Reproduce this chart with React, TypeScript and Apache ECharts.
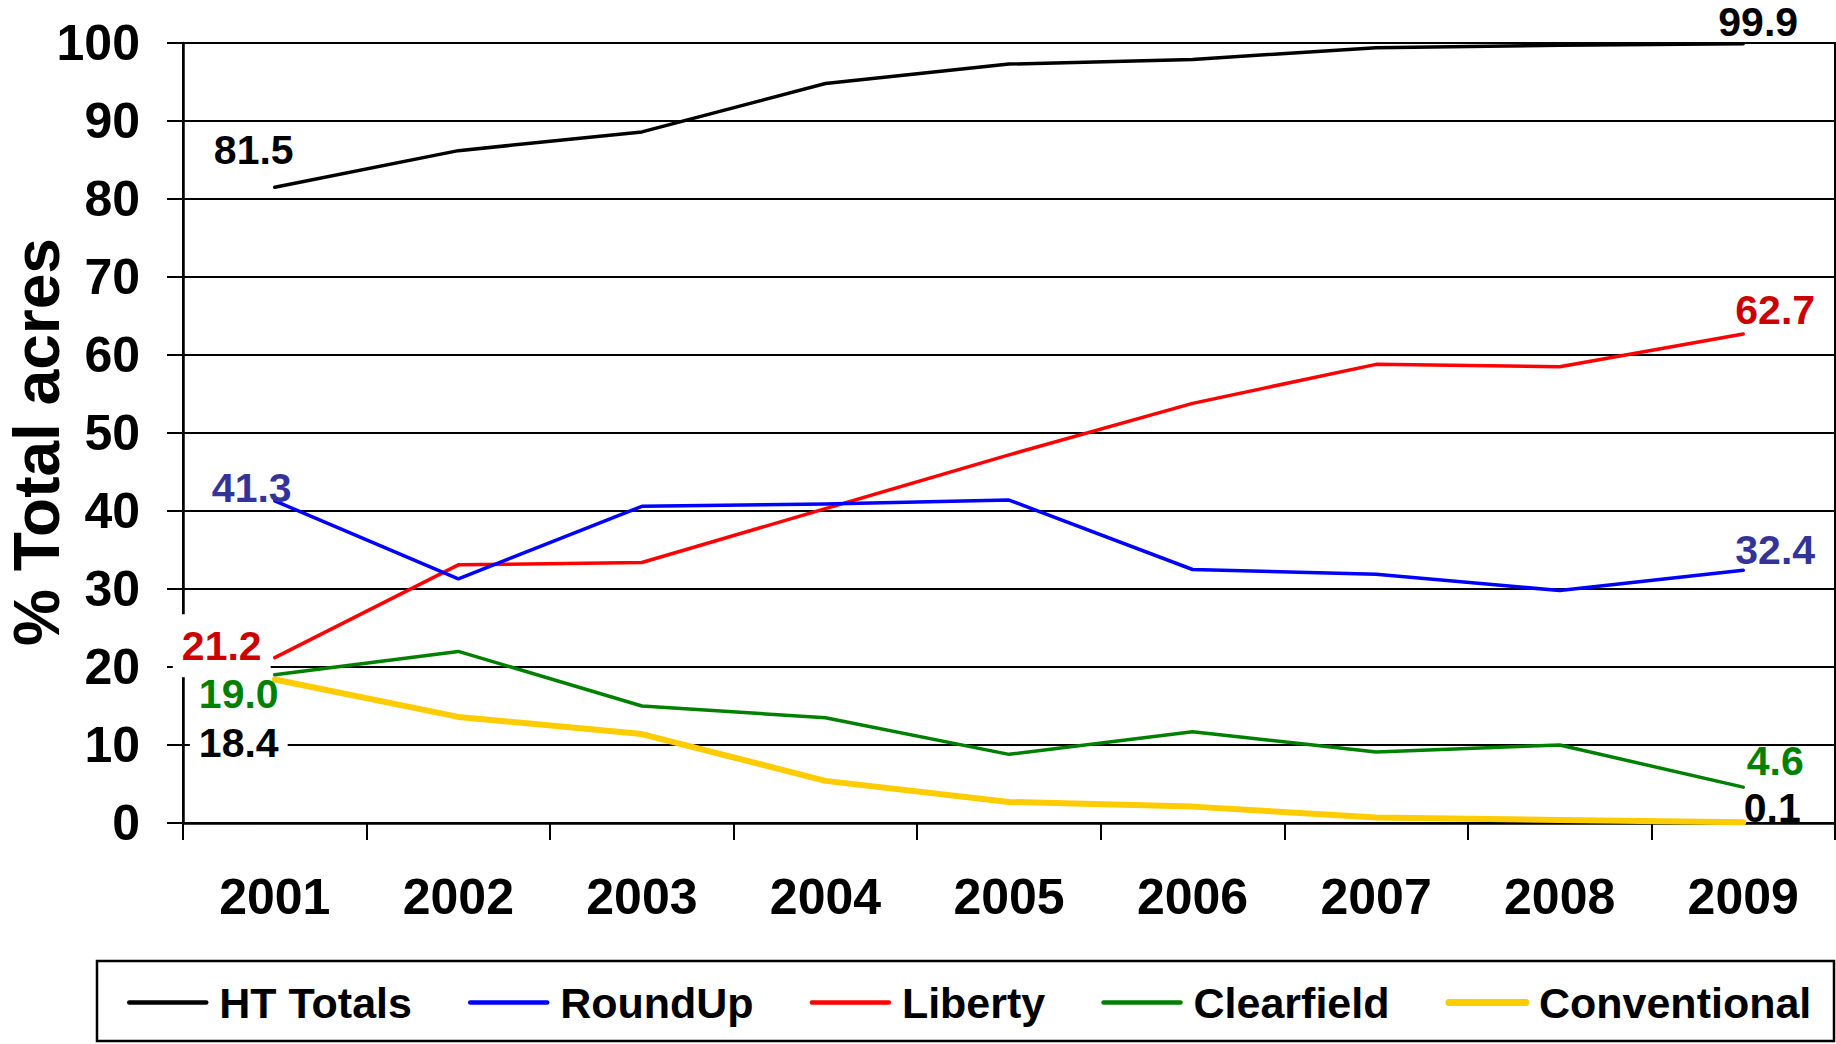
import React, { useEffect, useRef } from "react";
import * as echarts from "echarts";

const years = ["2001", "2002", "2003", "2004", "2005", "2006", "2007", "2008", "2009"];
const htTotals = [81.5, 86.2, 88.6, 94.8, 97.3, 97.9, 99.4, 99.7, 99.9];
const roundUp = [41.3, 31.3, 40.6, 40.9, 41.4, 32.5, 31.9, 29.8, 32.4];
const liberty = [21.2, 33.1, 33.4, 40.3, 47.2, 53.8, 58.8, 58.5, 62.7];
const clearfield = [19.0, 22.0, 15.0, 13.5, 8.8, 11.7, 9.1, 10.0, 4.6];
const conventional = [18.4, 13.6, 11.4, 5.4, 2.7, 2.1, 0.7, 0.4, 0.1];
const seriesNames = ["HT Totals", "RoundUp", "Liberty", "Clearfield", "Conventional"];
const yAxisTitle = "% Total acres";
const yMin = 0;
const yMax = 100;
const yStep = 10;

const FONT = "'Liberation Sans', Arial, Helvetica, sans-serif";

// styles (not data)
const lineColors = ["#000000", "#0000FF", "#FF0000", "#008000", "#FFCC00"];
const labelColors = ["#000000", "#333399", "#CC0000", "#008000", "#000000"];
const lineWidths = [3.5, 3.5, 3.5, 3.5, 6];
const legendLineWidths = [4.5, 4.5, 4.5, 4.5, 7];
const firstOffsets = [[-21, -37], [-23, -13], [-53, -12], [-36, 19], [-36, 64]];
const lastOffsets = [[15, -22], [32, -20], [32, -24], [32, -26], [29, -14]];
const firstBg = [false, false, true, false, true];

export default function App() {
  const ref = useRef<HTMLDivElement>(null);
  useEffect(() => {
    document.body.style.margin = "0";
    const chart = echarts.init(ref.current!, null, { renderer: "svg", width: 1836, height: 1044 });
    const allSeries = [htTotals, roundUp, liberty, clearfield, conventional];
    const lastIdx = years.length - 1;

    const lineSeries = allSeries.map((vals, i) => ({
      name: seriesNames[i],
      type: "line",
      data: vals,
      symbol: "none",
      smooth: false,
      lineStyle: { color: lineColors[i], width: lineWidths[i], cap: "round", join: "round" },
      itemStyle: { color: lineColors[i] },
      z: 3 + (allSeries.length - i) * 0.01,
    }));

    const labelData: any[] = [];
    allSeries.forEach((vals, i) => {
      const mk = (idx: number, off: number[], bg: boolean) => ({
        value: [years[idx], vals[idx]],
        label: {
          show: true,
          position: "inside",
          offset: off,
          formatter: (p: any) => Number(p.value[1]).toFixed(1),
          color: labelColors[i],
          fontFamily: FONT,
          fontWeight: "bold",
          fontSize: 41,
          textBorderWidth: 0,
          opacity: 1,
          backgroundColor: bg ? "#ffffff" : "transparent",
          padding: bg ? [11, 9] : 0,
        },
      });
      labelData.push(mk(0, firstOffsets[i], firstBg[i]));
      labelData.push(mk(lastIdx, lastOffsets[i], false));
    });

    const option: any = {
      animation: false,
      backgroundColor: "#ffffff",
      grid: {
        left: 183,
        right: 1,
        top: 43,
        bottom: 221,
        containLabel: false,
        outerBoundsMode: "none",
        show: true,
        borderColor: "#000",
        borderWidth: 2,
        backgroundColor: "transparent",
      },
      legend: {
        data: seriesNames.map((n, i) => ({
          name: n,
          lineStyle: { width: legendLineWidths[i], color: lineColors[i], cap: "round" },
        })),
        left: 127,
        top: 981,
        padding: 0,
        itemWidth: 77,
        itemHeight: 1,
        itemGap: 56,
        selectedMode: false,
        itemStyle: { opacity: 0 },
        textStyle: {
          fontFamily: FONT,
          fontWeight: "bold",
          fontSize: 43,
          color: "#000",
          padding: [0, 0, 0, 8],
        },
      },
      graphic: [
        {
          type: "rect",
          shape: { x: 97, y: 961, width: 1737, height: 80 },
          style: { fill: "none", stroke: "#000", lineWidth: 2.5 },
          silent: true,
        },
        {
          type: "text",
          x: 37,
          y: 442,
          rotation: Math.PI / 2,
          silent: true,
          style: {
            text: yAxisTitle,
            fontFamily: FONT,
            fontWeight: "bold",
            fontSize: 64,
            fill: "#000",
            align: "center",
            verticalAlign: "middle",
          },
        },
      ],
      xAxis: {
        type: "category",
        data: years,
        boundaryGap: true,
        axisLine: { show: true, lineStyle: { color: "#000", width: 2.5 } },
        axisTick: { show: true, length: 17, alignWithLabel: false, lineStyle: { color: "#000", width: 2 } },
        axisLabel: {
          margin: 49,
          fontFamily: FONT,
          fontWeight: "bold",
          fontSize: 50,
          color: "#000",
        },
        splitLine: { show: false },
      },
      yAxis: {
        type: "value",
        min: yMin,
        max: yMax,
        interval: yStep,
        axisLine: { show: true, lineStyle: { color: "#000", width: 2.5 } },
        axisTick: { show: true, inside: false, length: 16, lineStyle: { color: "#000", width: 2 } },
        axisLabel: {
          margin: 43,
          fontFamily: FONT,
          fontWeight: "bold",
          fontSize: 50,
          color: "#000",
        },
        splitLine: { show: true, lineStyle: { color: "#000", width: 2 } },
      },
      series: [
        ...lineSeries,
        {
          name: "labels",
          type: "scatter",
          data: labelData,
          symbol: "circle",
          symbolSize: 1,
          itemStyle: { color: "rgba(0,0,0,0)", opacity: 1 },
          silent: true,
          z: 10,
        },
      ],
    };
    chart.setOption(option);
    return () => chart.dispose();
  }, []);
  return <div ref={ref} style={{ width: 1836, height: 1044 }} />;
}
